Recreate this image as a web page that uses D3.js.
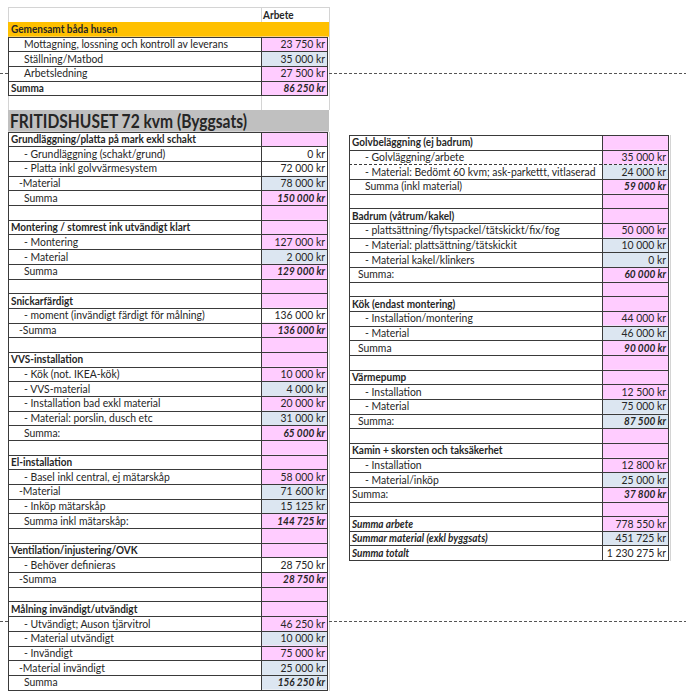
<!DOCTYPE html>
<html><head><meta charset="utf-8">
<script src="https://cdn.jsdelivr.net/npm/d3@7"></script>
<style>
body{margin:0;background:#fff}
svg{display:block}
text{font-family:Lato,"Open Sans",sans-serif;fill:#262626}
</style>
</head><body>
<svg id="c" width="686" height="700"></svg>
<script>
// ---------------- DATA ----------------
const valueHeader = "Arbete";
const commonTitle = "Gemensamt båda husen";
const commonLabels = ["Mottagning, lossning och kontroll av leverans","Ställning/Matbod","Arbetsledning","Summa"];
const commonValues = [23750, 35000, 27500, 86250];
const commonTypes  = ["arbete","material","arbete","arbete"];
const commonKinds  = ["i","i","i","S"];

const houseTitle = "FRITIDSHUSET 72 kvm (Byggsats)";

const leftLabels = [
 "Grundläggning/platta på mark exkl schakt","- Grundläggning (schakt/grund)","- Platta inkl golvvärmesystem","-Material","Summa","",
 "Montering / stomrest ink utvändigt klart","- Montering","- Material","Summa","",
 "Snickarfärdigt","- moment (invändigt färdigt för målning)","-Summa","",
 "VVS-installation","- Kök (not. IKEA-kök)","- VVS-material","- Installation bad exkl material","- Material: porslin, dusch etc","Summa:","",
 "El-installation","- Basel inkl central, ej mätarskåp","-Material","- Inköp mätarskåp","Summa inkl mätarskåp:","",
 "Ventilation/injustering/OVK","- Behöver definieras","-Summa","",
 "Målning invändigt/utvändigt","- Utvändigt; Auson tjärvitrol","- Material utvändigt","- Invändigt","-Material invändigt","Summa"];
const leftValues = [
 null,0,72000,78000,150000,null,
 null,127000,2000,129000,null,
 null,136000,136000,null,
 null,10000,4000,20000,31000,65000,null,
 null,58000,71600,15125,144725,null,
 null,28750,28750,null,
 null,46250,10000,75000,25000,156250];
const leftTypes = [
 "arbete","none","none","material","arbete","arbete",
 "arbete","arbete","material","arbete","arbete",
 "arbete","none","arbete","arbete",
 "arbete","arbete","material","arbete","material","arbete","arbete",
 "arbete","arbete","material","material","arbete","arbete",
 "arbete","none","arbete","arbete",
 "arbete","arbete","material","arbete","material","material"];
const leftKinds = [
 "h","i","i","i","s","e",
 "h","i","i","s","e",
 "h","i","s","e",
 "h","i","i","i","i","s","e",
 "h","i","i","i","s","e",
 "h","i","s","e",
 "h","i","i","i","i","s"];

const rightLabels = [
 "Golvbeläggning (ej badrum)","- Golvläggning/arbete","- Material: Bedömt 60 kvm; ask-parkettt, vitlaserad","Summa (inkl material)","",
 "Badrum (våtrum/kakel)","- plattsättning/flytspackel/tätskickt/fix/fog","- Material: plattsättning/tätskickit","- Material kakel/klinkers","Summa:","",
 "Kök (endast montering)","- Installation/montering","- Material","Summa","",
 "Värmepump","- Installation","- Material","Summa:","",
 "Kamin + skorsten och taksäkerhet","- Installation","- Material/inköp","Summa:","",
 "Summa arbete","Summar material (exkl byggsats)","Summa totalt"];
const rightValues = [
 null,35000,24000,59000,null,
 null,50000,10000,0,60000,null,
 null,44000,46000,90000,null,
 null,12500,75000,87500,null,
 null,12800,25000,37800,null,
 778550,451725,1230275];
const rightTypes = [
 "arbete","arbete","material","arbete","arbete",
 "arbete","arbete","material","material","arbete","arbete",
 "arbete","arbete","material","arbete","arbete",
 "arbete","arbete","material","material","arbete",
 "arbete","arbete","material","arbete","arbete",
 "arbete","material","none"];
const rightKinds = [
 "h","i","i","s","e",
 "h","i","i","i","s2","e",
 "h","i","i","s2","e",
 "h","i","i","s2","e",
 "h","i","i","s0","e",
 "t","t","t"];

// ---------------- STYLE ----------------
const fillOf = {arbete:"#ffccff", material:"#dce6f1", none:"#ffffff"};
const lineCol = "#3a3a3a";
const gridCol = "#d4d4d4";
const FS = 11.2;

const svg = d3.select("#c");
const fmt = d3.formatLocale({decimal:",", thousands:" ", grouping:[3], currency:[""," kr"]}).format("$,");

// horizontal compression factors so label widths match the reference (Calibri-like)
const probe = svg.append("text").attr("font-size",FS).text(commonLabels[0]);
const K = 204 / probe.node().getComputedTextLength();
probe.attr("font-weight","bold").text(leftLabels[0]);
const KB = 185 / probe.node().getComputedTextLength();
probe.remove();

function indentOf(kind,label){
  if (kind==="h"||kind==="S"||kind==="t"||kind==="s0") return 3;
  if (kind==="s2") return 9;
  if (label.startsWith("-") && label[1]!==" ") return 11;
  return 16;
}

function drawTable(g, cfg){
  const n = cfg.labels.length;
  const y = d3.scaleLinear().domain([0,n]).range([cfg.top, cfg.top + n*cfg.h]);
  const rows = d3.range(n).map(i=>({i,label:cfg.labels[i],value:cfg.values[i],type:cfg.types[i],kind:cfg.kinds[i]}));
  g.selectAll("rect.v").data(rows).join("rect")
    .attr("x",cfg.xv).attr("y",d=>y(d.i)).attr("width",cfg.x1-cfg.xv).attr("height",cfg.h)
    .attr("fill",d=>fillOf[d.type]);
  g.selectAll("line.h").data(d3.range(n+1)).join("line")
    .attr("x1",cfg.x0).attr("x2",cfg.x1)
    .attr("y1",i=>Math.round(y(i))+0.5).attr("y2",i=>Math.round(y(i))+0.5)
    .attr("stroke",lineCol).attr("stroke-width",1)
    .attr("stroke-dasharray",i=>(cfg.dashed||[]).includes(i)?"3,2":null);
  [cfg.x0,cfg.xv,cfg.x1].forEach(x=>{
    g.append("line").attr("x1",Math.round(x)+0.5).attr("x2",Math.round(x)+0.5)
      .attr("y1",Math.round(y(0))).attr("y2",Math.round(y(n))+1).attr("stroke",lineCol);
  });
  if (cfg.xg) g.append("line").attr("x1",cfg.xg+0.5).attr("x2",cfg.xg+0.5)
      .attr("y1",Math.round(y(0))).attr("y2",Math.round(y(n))+1).attr("stroke",gridCol);
  g.selectAll("text.l").data(rows.filter(d=>d.label)).join("text").attr("class","fit")
    .attr("x",d=>cfg.x0+indentOf(d.kind,d.label)).attr("y",d=>y(d.i)+cfg.h/2).attr("dy","0.36em")
    .attr("font-size",FS)
    .attr("font-weight",d=>(d.kind==="h"||d.kind==="S"||d.kind==="t")?"bold":null)
    .attr("font-style",d=>d.kind==="t"?"italic":null)
    .text(d=>d.label);
  g.selectAll("text.v").data(rows.filter(d=>d.value!==null)).join("text").attr("class","fit")
    .attr("x",cfg.x1-2).attr("y",d=>y(d.i)+cfg.h/2).attr("dy","0.36em")
    .attr("text-anchor","end").attr("font-size",FS)
    .attr("font-weight",d=>/^s|S/.test(d.kind)?"bold":null)
    .attr("font-style",d=>/^s|S/.test(d.kind)?"italic":null)
    .text(d=>fmt(d.value));
  return y;
}

// ---------- top block ----------
const L = {x0:8, xv:261, x1:327};
const topG = svg.append("g");
topG.append("line").attr("x1",L.x0).attr("x2",329).attr("y1",7.5).attr("y2",7.5).attr("stroke",gridCol);
[L.x0,L.xv,329].forEach(x=>topG.append("line").attr("x1",x+0.5).attr("x2",x+0.5).attr("y1",7).attr("y2",110).attr("stroke",gridCol));
topG.append("text").attr("class","fit").attr("x",263).attr("y",14.5).attr("dy","0.36em").attr("font-size",FS).attr("font-weight","bold").text(valueHeader);
topG.append("rect").attr("x",L.x0).attr("y",22).attr("width",329-L.x0).attr("height",14.7).attr("fill","#ffc000");
topG.append("text").attr("class","fit").attr("x",L.x0+3).attr("y",22+7.35).attr("dy","0.36em").attr("font-size",FS).attr("font-weight","bold").text(commonTitle);
drawTable(topG.append("g"),{labels:commonLabels,values:commonValues,types:commonTypes,kinds:commonKinds,
  top:36.7,h:14.68,x0:L.x0,xv:L.xv,x1:L.x1});
topG.append("line").attr("x1",L.x0).attr("x2",329).attr("y1",110.5).attr("y2",110.5).attr("stroke",gridCol);
topG.append("rect").attr("x",L.x0).attr("y",110).attr("width",329-L.x0).attr("height",21.7).attr("fill","#c0c0c0");
const tt = topG.append("text").attr("x",L.x0+2).attr("y",121.3).attr("dy","0.36em").attr("font-weight","bold").attr("font-size",19).attr("fill","#111").text(houseTitle);
tt.attr("textLength",237).attr("lengthAdjust","spacingAndGlyphs");

// ---------- left table ----------
drawTable(svg.append("g"),{labels:leftLabels,values:leftValues,types:leftTypes,kinds:leftKinds,
  top:131.7,h:14.68,x0:L.x0,xv:L.xv,x1:L.x1,xg:329});

// ---------- right table ----------
drawTable(svg.append("g"),{labels:rightLabels,values:rightValues,types:rightTypes,kinds:rightKinds,
  top:135,h:14.66,x0:349,xv:602,x1:668,xg:670,dashed:[2]});

// compress cell texts horizontally (regular and bold separately)
svg.selectAll("text.fit").each(function(){
  const w = this.getComputedTextLength();
  const k = this.getAttribute("font-weight")==="bold" ? KB : K;
  d3.select(this).attr("textLength",w*k).attr("lengthAdjust","spacingAndGlyphs");
});

// ---------- page break lines ----------
[[0,8,73.5],[329,686,73.5],[0,8,621.5],[329,686,621.5]].forEach(([a,b,yy])=>{
  svg.append("line").attr("x1",a).attr("x2",b).attr("y1",yy).attr("y2",yy)
    .attr("stroke","#555").attr("stroke-dasharray","3,2");
});
</script>
</body></html>
